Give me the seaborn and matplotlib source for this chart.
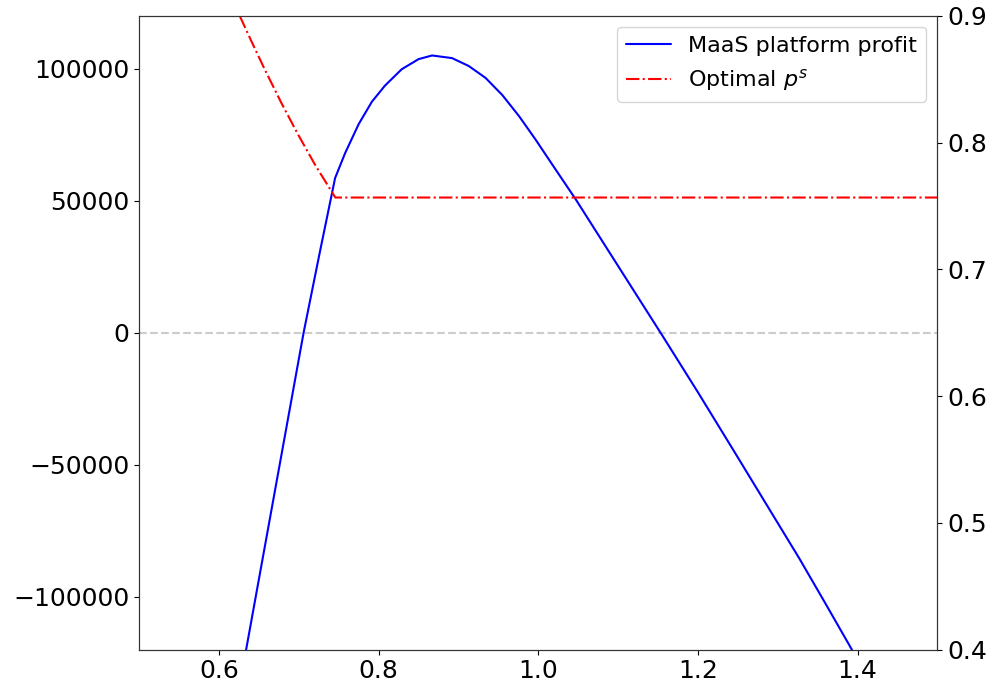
import numpy as np
import pandas as pd
import matplotlib
matplotlib.use("Agg")
import matplotlib.pyplot as plt
import seaborn as sns

# values
price = [0.634, 0.67, 0.706, 0.726, 0.7455, 0.758, 0.775, 0.7916, 0.808, 0.829,
         0.85, 0.867, 0.892, 0.913, 0.934, 0.955, 0.976, 0.997, 1.018, 1.047,
         1.1, 1.156, 1.2, 1.244, 1.3, 1.327, 1.36, 1.393]
profit = [-120000, -60000, 0, 30000, 58600, 68000, 79000, 87500, 93600, 99800,
          103600, 105000, 104000, 101000, 96500, 90000, 82000, 73000, 63500, 50500,
          25300, -1300, -22500, -44200, -72000, -85400, -102600, -120000]

ps_price = [0.626, 0.6406, 0.6575, 0.678, 0.699, 0.7204, 0.741, 0.7458, 1.5]
optimal_ps = [0.9, 0.880, 0.8575, 0.8315, 0.8065, 0.7825, 0.7615, 0.7567, 0.7567]

profit_df = pd.DataFrame({"price": price, "profit": profit})
ps_df = pd.DataFrame({"price": ps_price, "ps": optimal_ps})

sns.set_style("ticks")
plt.rcParams["font.family"] = ["DejaVu Sans"]
plt.rcParams["text.color"] = "black"
plt.rcParams["xtick.color"] = "black"
plt.rcParams["ytick.color"] = "black"
plt.rcParams["axes.edgecolor"] = "#333333"

fig, ax = plt.subplots(figsize=(9.94, 6.89), dpi=100)
fig.subplots_adjust(left=0.14, right=0.943, top=0.977, bottom=0.057)

ax.axhline(0, color="#cccccc", linestyle="--", linewidth=1.5, zorder=1)
sns.lineplot(data=profit_df, x="price", y="profit", ax=ax, color="blue",
             linewidth=1.5, sort=False, label="MaaS platform profit")

ax2 = ax.twinx()
sns.lineplot(data=ps_df, x="price", y="ps", ax=ax2, color="red",
             linewidth=1.5, linestyle="-.", sort=False, label="Optimal $p^s$")

ax.set_xlim(0.5, 1.5)
ax.set_ylim(-120000, 120000)
ax2.set_ylim(0.4, 0.9)
ax.set_xticks([0.6, 0.8, 1.0, 1.2, 1.4])
ax.set_yticks([-100000, -50000, 0, 50000, 100000])
ax2.set_yticks([0.4, 0.5, 0.6, 0.7, 0.8, 0.9])
ax.set_xlabel("")
ax.set_ylabel("")
ax2.set_ylabel("")
ax.tick_params(labelsize=18)
ax2.tick_params(labelsize=18)

h1, l1 = ax.get_legend_handles_labels()
h2, l2 = ax2.get_legend_handles_labels()
ax.get_legend().remove()
ax2.get_legend().remove()
ax2.legend(h1 + h2, l1 + l2, loc="upper right", fontsize=16)

fig.savefig("out.png", dpi=100)
